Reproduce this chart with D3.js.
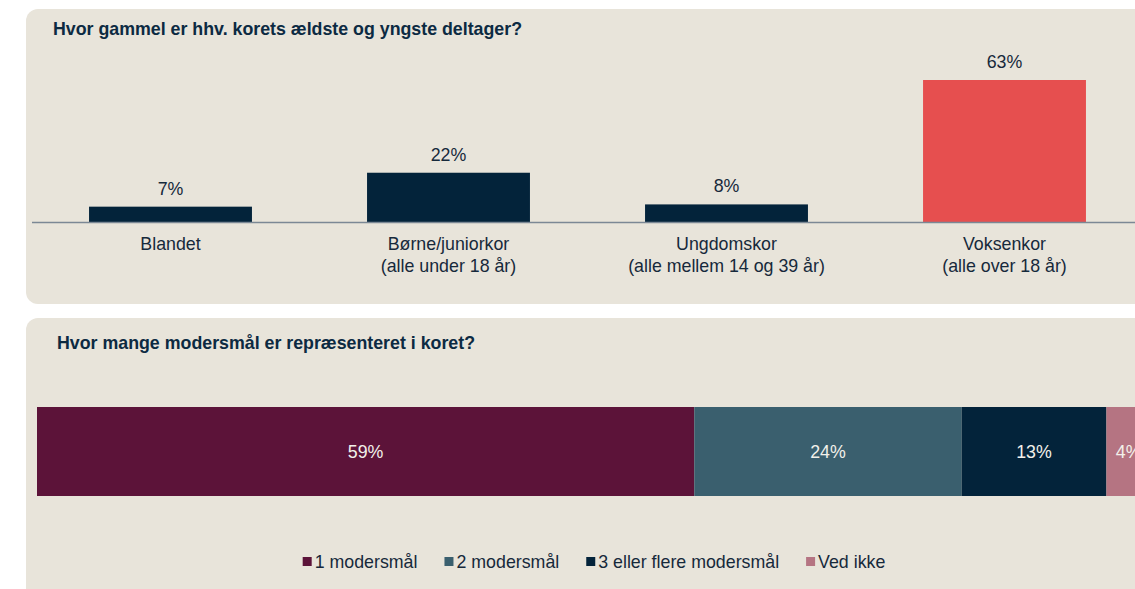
<!DOCTYPE html>
<html>
<head>
<meta charset="utf-8">
<script src="https://cdn.jsdelivr.net/npm/d3@7"></script>
<style>
  body { margin: 0; background: #fff; }
  svg { display: block; font-family: "Liberation Sans", Arial, sans-serif; }
</style>
</head>
<body>
<svg id="chart" width="1135" height="589"></svg>
<script>
// data
const ageTitle = "Hvor gammel er hhv. korets ældste og yngste deltager?";
const ageCategories = ["Blandet", "Børne/juniorkor\n(alle under 18 år)", "Ungdomskor\n(alle mellem 14 og 39 år)", "Voksenkor\n(alle over 18 år)"];
const ageValues = [7, 22, 8, 63];

const langTitle = "Hvor mange modersmål er repræsenteret i koret?";
const langCategories = ["1 modersmål", "2 modersmål", "3 eller flere modersmål", "Ved ikke"];
const langValues = [59, 24, 13, 4];

const panelBg = "#e8e4da";
const textCol = "#16293b";
const titleCol = "#0c2a42";
const fontSize = "17.8px";

const svg = d3.select("#chart");

// panels
svg.append("rect").attr("x", 26).attr("y", 9).attr("width", 1140).attr("height", 295)
  .attr("rx", 12).attr("fill", panelBg);
svg.append("rect").attr("x", 26).attr("y", 318).attr("width", 1140).attr("height", 300)
  .attr("rx", 12).attr("fill", panelBg);

// ---- chart 1: age bars
svg.append("text").attr("x", 53).attr("y", 35)
  .attr("fill", titleCol).style("font-size", fontSize).style("font-weight", "bold")
  .text(ageTitle);

const baseline = 222.5;
let x1 = d3.scaleBand()
  .domain(ageCategories)
  .range([31.5, 1143.5])
  .paddingInner(0.414)
  .paddingOuter(0.207);

let y1 = d3.scaleLinear()
  .domain([0, 63])
  .range([baseline, 80]);

const barColor = d => d.startsWith("Voksenkor") ? "#e64f4f" : "#03233a";

const ageData = ageCategories.map((c, i) => ({ cat: c, value: ageValues[i] }));

svg.append("g").selectAll("rect")
  .data(ageData)
  .enter().append("rect")
  .attr("x", d => x1(d.cat))
  .attr("y", d => y1(d.value))
  .attr("width", x1.bandwidth())
  .attr("height", d => y1(0) - y1(d.value))
  .attr("fill", d => barColor(d.cat));

svg.append("g").selectAll("text")
  .data(ageData)
  .enter().append("text")
  .attr("x", d => x1(d.cat) + x1.bandwidth() / 2)
  .attr("y", d => y1(d.value) - 12)
  .attr("text-anchor", "middle")
  .attr("fill", textCol)
  .style("font-size", fontSize)
  .text(d => d.value + "%");

// x axis
const xAxis = svg.append("g")
  .attr("transform", `translate(0,${baseline})`)
  .call(d3.axisBottom(x1).tickSize(0).tickPadding(0));
xAxis.select(".domain").remove();
xAxis.append("line").attr("x1", 32).attr("x2", 1135).attr("y1", 0).attr("y2", 0)
  .attr("stroke", "#7b8895").attr("stroke-width", 1.5);
xAxis.selectAll(".tick text").each(function (d) {
  const t = d3.select(this).text(null)
    .attr("y", 0).attr("dy", null)
    .attr("fill", textCol)
    .style("font-size", fontSize)
    .style("font-family", "Liberation Sans, Arial, sans-serif");
  d.split("\n").forEach((line, i) => {
    t.append("tspan").attr("x", 0).attr("y", 27.5 + i * 21.5).text(line);
  });
});

// ---- chart 2: stacked bar
svg.append("text").attr("x", 57).attr("y", 349)
  .attr("fill", titleCol).style("font-size", fontSize).style("font-weight", "bold")
  .text(langTitle);

let x2 = d3.scaleLinear().domain([0, 100]).range([37, 1151]);
const color2 = d3.scaleOrdinal()
  .domain(langCategories)
  .range(["#5c1339", "#3a5f6e", "#03233a", "#b57482"]);

const stackRow = {};
langCategories.forEach((c, i) => stackRow[c] = langValues[i]);
const series = d3.stack().keys(langCategories)([stackRow]);

const barTop = 407, barH = 89;
const seg = svg.append("g").selectAll("g")
  .data(series)
  .enter().append("g");

seg.append("rect")
  .attr("x", d => x2(d[0][0]))
  .attr("y", barTop)
  .attr("width", d => x2(d[0][1]) - x2(d[0][0]))
  .attr("height", barH)
  .attr("fill", d => color2(d.key));

seg.append("text")
  .attr("x", d => (x2(d[0][0]) + x2(d[0][1])) / 2)
  .attr("y", barTop + barH / 2)
  .attr("dy", "0.35em")
  .attr("text-anchor", "middle")
  .attr("fill", "#f2f0ea")
  .style("font-size", fontSize)
  .text(d => (d[0][1] - d[0][0]) + "%");

// legend
const legend = svg.append("g");
let lx = 0;
langCategories.forEach(c => {
  const item = legend.append("g").attr("transform", `translate(${lx},0)`);
  item.append("rect").attr("x", 0).attr("y", -11).attr("width", 9).attr("height", 9)
    .attr("fill", color2(c));
  const t = item.append("text").attr("x", 12).attr("y", 0)
    .attr("fill", textCol).style("font-size", fontSize).text(c);
  lx += 12 + t.node().getComputedTextLength() + 27;
});
const legendW = lx - 27;
legend.attr("transform", `translate(${(x2(0) + x2(100)) / 2 - legendW / 2},568)`);
</script>
</body>
</html>
